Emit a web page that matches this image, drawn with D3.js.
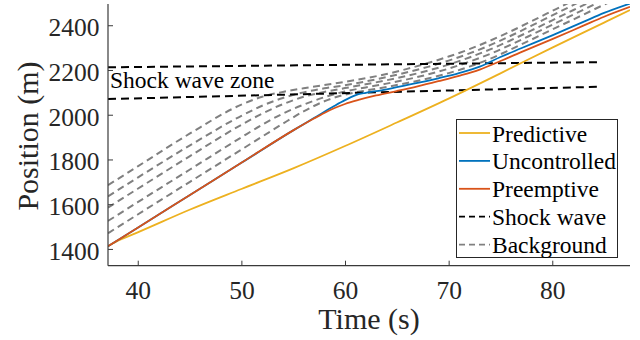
<!DOCTYPE html>
<html><head><meta charset="utf-8">
<script src="https://cdn.jsdelivr.net/npm/d3@7"></script>
<style>body{margin:0;background:#fff}svg{display:block}svg text{font-family:"Liberation Serif","Times New Roman",serif !important}</style>
</head><body><svg id="c" width="640" height="340"></svg>
<script>
// ---- data ----
const timeTicks = [40, 50, 60, 70, 80];
const posTicks = [1400, 1600, 1800, 2000, 2200, 2400];

const predT = [37.13, 38, 40, 45, 50, 55, 60, 65, 70, 75, 80, 85, 87.5];
const predP = [1413, 1435, 1474, 1575, 1668, 1760, 1860, 1965, 2072, 2185, 2300, 2412, 2468];

const uncT = [37.13, 40, 45, 50, 55, 57, 59, 60, 61.3, 62, 63, 65, 67, 69, 71, 73, 75, 77, 80, 83, 85, 87.5];
const uncP = [1412, 1495, 1640, 1785, 1930, 1985, 2040, 2065, 2092, 2098, 2105, 2123, 2142, 2163, 2186, 2215, 2258, 2297, 2355, 2415, 2455, 2497];

const preT = [37.13, 40, 45, 50, 55, 57, 58, 59, 60, 61.3, 63, 65, 67, 69, 71, 73, 75, 77, 80, 83, 85, 87.5];
const preP = [1412, 1495, 1640, 1785, 1930, 1983, 2008, 2030, 2048, 2066, 2086, 2106, 2127, 2150, 2174, 2202, 2240, 2280, 2338, 2398, 2438, 2482];

const shockT = [37.13, 84.5];
const shockUpper = [2212, 2235];
const shockLower = [2070, 2125];

const bgT = [37.13, 40, 45, 50, 52, 54, 56, 58, 60, 62, 64, 66, 68, 70, 72, 74, 76, 78, 80, 82, 84, 86];
const bg1 = [1685, 1769, 1915, 2045, 2080, 2102, 2118, 2133, 2147, 2163, 2182, 2205, 2231, 2260, 2293, 2331, 2373, 2418, 2464, 2510, 2556, 2602];
const bg2 = [1635, 1719, 1862, 1995, 2040, 2075, 2100, 2118, 2132, 2149, 2168, 2190, 2214, 2242, 2274, 2311, 2353, 2398, 2444, 2490, 2536, 2582];
const bg3 = [1585, 1669, 1814, 1955, 2005, 2047, 2080, 2102, 2119, 2136, 2154, 2174, 2197, 2224, 2256, 2292, 2333, 2377, 2422, 2467, 2512, 2557];
const bg4 = [1525, 1609, 1754, 1899, 1955, 2005, 2045, 2078, 2104, 2122, 2139, 2158, 2180, 2206, 2237, 2272, 2313, 2357, 2402, 2447, 2492, 2537];
const bg5 = [1470, 1554, 1699, 1844, 1902, 1960, 2015, 2060, 2090, 2108, 2124, 2142, 2162, 2186, 2215, 2250, 2292, 2336, 2381, 2425, 2470, 2514];

const legendLabels = ["Predictive", "Uncontrolled", "Preemptive", "Shock wave", "Background"];

// ---- layout ----
const svg = d3.select("#c");
const X0 = 108, X1 = 630, Y0 = 265.7, Y1 = 4;
const x = d3.scaleLinear().domain([37.13, 87.5]).range([X0, X1]);
const y = d3.scaleLinear().domain([1325, 2495]).range([Y0, Y1]);
const axisCol = "#3a3a3a";

svg.append("defs").append("clipPath").attr("id", "clip")
  .append("rect").attr("x", X0).attr("y", Y1).attr("width", X1 - X0).attr("height", Y0 - Y1);

const plot = svg.append("g").attr("clip-path", "url(#clip)");
const line = d3.line().x(d => x(d[0])).y(d => y(d[1])).curve(d3.curveMonotoneX);
const zip = (a, b) => a.map((v, i) => [v, b[i]]);

// background vehicles
[bg1, bg2, bg3, bg4, bg5].forEach(arr => {
  plot.append("path").attr("d", line(zip(bgT, arr)))
    .attr("fill", "none").attr("stroke", "#808080").attr("stroke-width", 2)
    .attr("stroke-dasharray", "7,4.5");
});
// shock wave
[shockUpper, shockLower].forEach(arr => {
  plot.append("path").attr("d", d3.line().x(d => x(d[0])).y(d => y(d[1]))(zip(shockT, arr)))
    .attr("fill", "none").attr("stroke", "#000").attr("stroke-width", 2)
    .attr("stroke-dasharray", "8,5");
});
// trajectories
const series = [
  {t: predT, p: predP, c: "#EDB120"},
  {t: uncT, p: uncP, c: "#0072BD"},
  {t: preT, p: preP, c: "#D95319"}
];
series.forEach(s => {
  plot.append("path").attr("d", line(zip(s.t, s.p)))
    .attr("fill", "none").attr("stroke", s.c).attr("stroke-width", 1.8);
});

// axes
const xAxis = d3.axisBottom(x).tickValues(timeTicks).tickFormat(d3.format("d"))
  .tickSizeInner(-5).tickSizeOuter(0);
const gx = svg.append("g").attr("transform", `translate(0,${Y0})`).call(xAxis);
const yAxis = d3.axisLeft(y).tickValues(posTicks).tickFormat(d3.format("d"))
  .tickSizeInner(-5).tickSizeOuter(0);
const gy = svg.append("g").attr("transform", `translate(${X0},0)`).call(yAxis);
[gx, gy].forEach(g => {
  g.attr("font-size", 25.5);
  g.select(".domain").attr("stroke", axisCol).attr("stroke-width", 1.2);
  g.selectAll(".tick line").attr("stroke", axisCol).attr("stroke-width", 1);
  g.selectAll(".tick text").attr("fill", "#262626");
});
gx.selectAll(".tick text").attr("dy", null).attr("y", 33);
gy.selectAll(".tick text").attr("dy", null).attr("x", -8.5).attr("y", 10.5);
gx.select(".domain").attr("d", `M${X0},0H${X1}`);
gy.select(".domain").attr("d", `M0,${Y0}V${Y1}`);

svg.append("text").attr("x", (X0 + X1) / 2).attr("y", 329).attr("text-anchor", "middle")
  .style("font-size", "30px").attr("fill", "#262626").text("Time (s)");
svg.append("text").attr("transform", "translate(38,136) rotate(-90)").attr("text-anchor", "middle")
  .style("font-size", "30px").attr("fill", "#262626").text("Position (m)");

// annotation
svg.append("text").attr("x", 110).attr("y", 88).style("font-size", "23.5px")
  .attr("fill", "#000").text("Shock wave zone");

// legend
const lg = svg.append("g");
lg.append("rect").attr("x", 456.5).attr("y", 119.5).attr("width", 161).attr("height", 138)
  .attr("fill", "#fff").attr("stroke", "#262626").attr("stroke-width", 1);
const legStyles = [
  {c: "#EDB120", d: null},
  {c: "#0072BD", d: null},
  {c: "#D95319", d: null},
  {c: "#000", d: "6,4"},
  {c: "#808080", d: "6,4"}
];
legendLabels.forEach((lab, i) => {
  const cy = 133 + i * 27.9;
  lg.append("line").attr("x1", 459).attr("x2", 490).attr("y1", cy).attr("y2", cy)
    .attr("stroke", legStyles[i].c).attr("stroke-width", 1.8)
    .attr("stroke-dasharray", legStyles[i].d);
  lg.append("text").attr("x", 492).attr("y", cy + 8.5).style("font-size", "23.5px")
    .attr("fill", "#000").text(lab);
});
</script></body></html>
